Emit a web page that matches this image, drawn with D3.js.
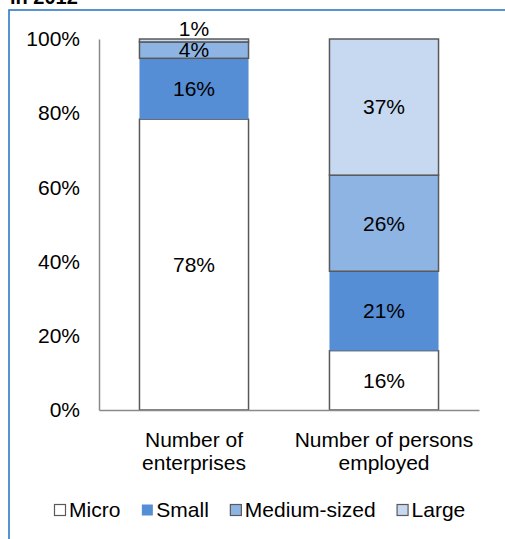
<!DOCTYPE html>
<html>
<head>
<meta charset="utf-8">
<script src="https://cdn.jsdelivr.net/npm/d3@7"></script>
<style>
  body { margin: 0; background: #fff; }
  text { font-family: Arial, "Liberation Sans", sans-serif; fill: #000; }
</style>
</head>
<body>
<div id="chart"></div>
<script>
// data
var categories = [['Number of', 'enterprises'], ['Number of persons', 'employed']]
var sizeClasses = ['Micro', 'Small', 'Medium-sized', 'Large']
var enterprises = [78.4, 16.4, 4.4, 0.8]
var personsEmployed = [16.0, 21.4, 25.9, 36.7]
var yTicks = [0, 20, 40, 60, 80, 100]

var colors = ['#ffffff', '#558ed5', '#8eb4e3', '#c6d9f1']
var strokes = ['#595959', 'none', '#595959', '#595959']
var fs = '21px'

var width = 505,
  height = 539

var svg = d3.select('#chart')
  .append('svg')
  .attr('width', width)
  .attr('height', height)

// frame + title (cut off at top, as in the source)
svg.append('rect')
  .attr('x', 9).attr('y', 10)
  .attr('width', 540).attr('height', 580)
  .attr('fill', 'none')
  .attr('stroke', '#1f70c1')
  .attr('stroke-width', 1.5)

svg.append('text')
  .attr('x', 10).attr('y', 4)
  .style('font-size', '20px')
  .style('font-weight', 'bold')
  .text('in 2012')

var xScale = d3.scaleBand()
  .domain(d3.range(categories.length))
  .range([99, 479])
  .paddingInner(0.426)
  .paddingOuter(0.213)

var yScale = d3.scaleLinear()
  .domain([0, 100])
  .range([410, 39])

// stack rows
var rows = [enterprises, personsEmployed].map(function(vals, i) {
  var acc = 0
  return vals.map(function(v, k) {
    var seg = { cat: i, k: k, v: v, y0: acc, y1: acc + v }
    acc += v
    return seg
  })
})
var segs = d3.merge(rows)

svg.selectAll('.seg')
  .data(segs)
  .enter()
  .append('rect')
  .attr('class', 'seg')
  .attr('x', d => xScale(d.cat))
  .attr('width', xScale.bandwidth())
  .attr('y', d => yScale(d.y1))
  .attr('height', d => yScale(d.y0) - yScale(d.y1))
  .attr('fill', d => colors[d.k])
  .attr('stroke', d => strokes[d.k])
  .attr('stroke-width', 1.5)

svg.selectAll('.lbl')
  .data(segs)
  .enter()
  .append('text')
  .attr('class', 'lbl')
  .attr('x', d => xScale(d.cat) + xScale.bandwidth() / 2)
  .attr('y', function(d) {
    var h = yScale(d.y0) - yScale(d.y1)
    if (h < 8) return yScale(d.y1) - 10
    return (yScale(d.y0) + yScale(d.y1)) / 2
  })
  .attr('dy', '0.35em')
  .attr('text-anchor', 'middle')
  .style('font-size', fs)
  .text(d => Math.round(d.v) + '%')

// axes
var yAxis = svg.append('g')
  .attr('transform', 'translate(99,0)')
  .call(d3.axisLeft(yScale).tickValues(yTicks).tickSize(0).tickPadding(19).tickFormat(d => d + '%'))
yAxis.select('.domain').attr('stroke', '#8a8a8a').attr('stroke-width', 1.5)
yAxis.selectAll('text').style('font-size', fs).attr('fill', '#000')

var xAxis = svg.append('g')
  .attr('transform', 'translate(0,410)')
  .call(d3.axisBottom(xScale).tickSize(0).tickFormat(''))
xAxis.select('.domain').attr('stroke', '#8a8a8a').attr('stroke-width', 1.5)

svg.selectAll('.cat')
  .data(categories)
  .enter()
  .append('text')
  .attr('class', 'cat')
  .attr('text-anchor', 'middle')
  .attr('x', (d, i) => xScale(i) + xScale.bandwidth() / 2)
  .attr('y', 447)
  .style('font-size', fs)
  .selectAll('tspan')
  .data(d => d)
  .enter()
  .append('tspan')
  .attr('x', function() { return this.parentNode.getAttribute('x') })
  .attr('dy', (d, i) => i ? 23 : 0)
  .text(d => d)

// legend
var lx = 54
sizeClasses.forEach(function(name, k) {
  svg.append('rect')
    .attr('x', lx + 0.5).attr('y', 504.5)
    .attr('width', 11).attr('height', 11)
    .attr('fill', colors[k])
    .attr('stroke', strokes[k])
    .attr('stroke-width', 1.2)
  var t = svg.append('text')
    .attr('x', lx + 15).attr('y', 517)
    .style('font-size', fs)
    .text(name)
  lx += 15 + t.node().getComputedTextLength() + 21
})
</script>
</body>
</html>
